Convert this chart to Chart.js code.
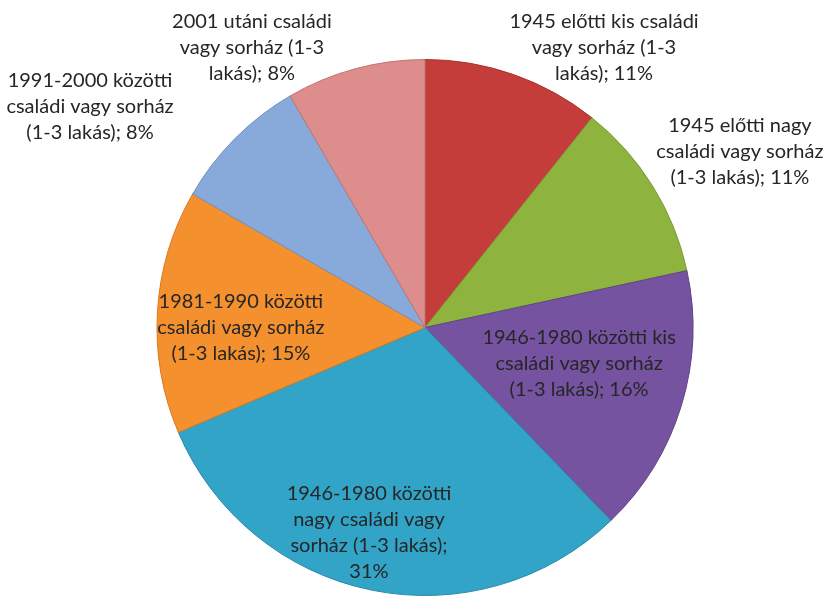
<!DOCTYPE html>
<html>
<head>
<meta charset="utf-8">
<script src="https://cdn.jsdelivr.net/npm/chart.js@4/dist/chart.umd.min.js"></script>
<style>
  html, body { margin: 0; padding: 0; background: #fff; }
  #wrap { width: 827px; height: 596px; }
</style>
</head>
<body>
<div id="wrap"><canvas id="lakasChart" width="827" height="596"></canvas></div>
<script>
// Adatok — lakástípusok megoszlása (%)
const categories = [
    '1945 előtti kis családi vagy sorház (1-3 lakás)',
    '1945 előtti nagy családi vagy sorház (1-3 lakás)',
    '1946-1980 közötti kis családi vagy sorház (1-3 lakás)',
    '1946-1980 közötti nagy családi vagy sorház (1-3 lakás)',
    '1981-1990 közötti családi vagy sorház (1-3 lakás)',
    '1991-2000 közötti családi vagy sorház (1-3 lakás)',
    '2001 utáni családi vagy sorház (1-3 lakás)'
];
const values = [10.7, 10.9, 16.2, 30.8, 14.7, 8.3, 8.4];

// Címkék sortörése, {p} = százalék
const labelLines = [
    ['1945 előtti kis családi', 'vagy sorház (1-3', 'lakás); {p}%'],
    ['1945 előtti nagy', 'családi vagy sorház', '(1-3 lakás); {p}%'],
    ['1946-1980 közötti kis', 'családi vagy sorház', '(1-3 lakás); {p}%'],
    ['1946-1980 közötti', 'nagy családi vagy', 'sorház (1-3 lakás);', '{p}%'],
    ['1981-1990 közötti', 'családi vagy sorház', '(1-3 lakás); {p}%'],
    ['1991-2000 közötti', 'családi vagy sorház', '(1-3 lakás); {p}%'],
    ['2001 utáni családi', 'vagy sorház (1-3', 'lakás); {p}%']
];

const baseColors = ['#C43D3B', '#8EB43F', '#7553A0', '#31A4C7', '#F5902F', '#88AADB', '#DD8D8C'];
const edgeColors = ['#A8302E', '#7A9A34', '#5F4285', '#2A8AA8', '#D8791F', '#7090BE', '#C07473'];

// Címke helyzete a sugár arányában (középponttól)
const labelPos = [
    [0.668, -1.045], [1.175, -0.657], [0.575, 0.134], [-0.209, 0.765],
    [-0.687, 0.0], [-1.25, -0.825], [-0.646, -1.045]
];

function _shade(hex, amt) {
    const n = parseInt(hex.slice(1), 16);
    let r = (n >> 16) & 255, g = (n >> 8) & 255, b = n & 255;
    r = Math.max(0, Math.min(255, Math.round(r + amt)));
    g = Math.max(0, Math.min(255, Math.round(g + amt)));
    b = Math.max(0, Math.min(255, Math.round(b + amt)));
    return `rgb(${r},${g},${b})`;
}

function _fill(context) {
    const chart = context.chart;
    const base = baseColors[context.dataIndex];
    const arc = chart.getDatasetMeta(0).data[context.dataIndex];
    if (!arc || !arc.outerRadius) return base;
    const g = chart.ctx.createRadialGradient(arc.x, arc.y, 0, arc.x, arc.y, arc.outerRadius);
    g.addColorStop(0, _shade(base, 12));
    g.addColorStop(0.85, base);
    g.addColorStop(1, _shade(base, -14));
    return g;
}

const labelPlugin = {
    id: 'sliceLabels',
    afterDatasetsDraw(chart) {
        const ctx = chart.ctx;
        const meta = chart.getDatasetMeta(0);
        const total = values.reduce((a, b) => a + b, 0);
        ctx.save();
        ctx.font = '20px Lato';
        ctx.fillStyle = '#262626';
        ctx.textAlign = 'center';
        ctx.textBaseline = 'middle';
        meta.data.forEach((arc, i) => {
            const pct = Math.round(values[i] / total * 100);
            const lines = labelLines[i].map(s => s.replace('{p}', pct));
            const cx = arc.x + labelPos[i][0] * arc.outerRadius;
            const cy = arc.y + labelPos[i][1] * arc.outerRadius;
            const lh = 26;
            const y0 = cy - (lines.length - 1) * lh / 2;
            lines.forEach((t, k) => ctx.fillText(t, cx, y0 + k * lh));
        });
        ctx.restore();
    }
};

new Chart(document.getElementById('lakasChart'), {
    type: 'pie',
    data: {
        labels: categories,
        datasets: [{
            data: values,
            backgroundColor: _fill,
            borderColor: edgeColors,
            borderWidth: 1
        }]
    },
    options: {
        responsive: false,
        animation: false,
        layout: { padding: { top: 59, left: 23, right: 0, bottom: 0 } },
        plugins: {
            legend: { display: false },
            tooltip: { enabled: false }
        }
    },
    plugins: [labelPlugin]
});
</script>
</body>
</html>
